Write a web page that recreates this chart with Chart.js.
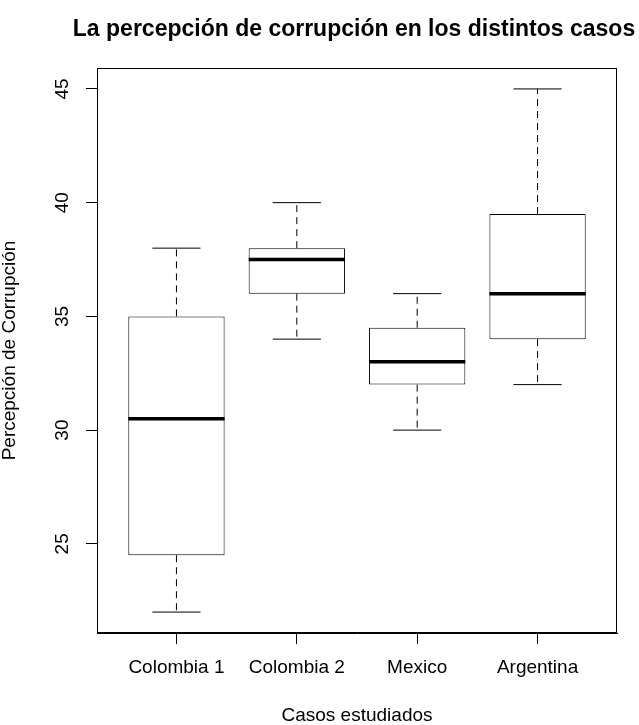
<!DOCTYPE html>
<html>
<head>
<meta charset="utf-8">
<script src="https://cdn.jsdelivr.net/npm/chart.js@4/dist/chart.umd.min.js"></script>
<style>
  body { margin: 0; background: #fff; }
  #wrap { width: 639px; height: 725px; }
</style>
</head>
<body>
<div id="wrap"><canvas id="chart"></canvas></div>
<script>
// datos del boxplot
const casos = ['Colombia 1', 'Colombia 2', 'Mexico', 'Argentina'];
const minimos = [22, 34, 30, 32];
const cuartil1 = [24.5, 36, 32, 34];
const medianas = [30.5, 37.5, 33, 36];
const cuartil3 = [35, 38, 34.5, 39.5];
const maximos = [38, 40, 36, 45];
const yTicks = [25, 30, 35, 40, 45];
const titulo = 'La percepción de corrupción en los distintos casos';

Chart.defaults.font.family = '"Liberation Sans", Arial, sans-serif';
Chart.defaults.color = '#000';

// bigotes, medianas, etiquetas del eje y, marco y titulo
const cajas = {
  id: 'cajas',
  afterDatasetsDraw(chart) {
    const ctx = chart.ctx;
    const x = chart.scales.x;
    const y = chart.scales.y;
    const meta = chart.getDatasetMeta(0);
    ctx.save();
    ctx.strokeStyle = '#000';
    casos.forEach((c, i) => {
      const el = meta.data[i];
      const cx = x.getPixelForValue(i + 1);
      const w = el.width;
      ctx.lineWidth = 1;
      ctx.setLineDash([7, 5]);
      ctx.beginPath();
      ctx.moveTo(cx, y.getPixelForValue(cuartil3[i]));
      ctx.lineTo(cx, y.getPixelForValue(maximos[i]));
      ctx.moveTo(cx, y.getPixelForValue(cuartil1[i]));
      ctx.lineTo(cx, y.getPixelForValue(minimos[i]));
      ctx.stroke();
      ctx.setLineDash([]);
      ctx.beginPath();
      ctx.moveTo(cx - w / 4, y.getPixelForValue(maximos[i]));
      ctx.lineTo(cx + w / 4, y.getPixelForValue(maximos[i]));
      ctx.moveTo(cx - w / 4, y.getPixelForValue(minimos[i]));
      ctx.lineTo(cx + w / 4, y.getPixelForValue(minimos[i]));
      ctx.stroke();
      ctx.lineWidth = 3.5;
      ctx.beginPath();
      ctx.moveTo(cx - w / 2, y.getPixelForValue(medianas[i]));
      ctx.lineTo(cx + w / 2, y.getPixelForValue(medianas[i]));
      ctx.stroke();
    });
    const a = chart.chartArea;
    ctx.lineWidth = 1;
    ctx.strokeRect(a.left + 0.5, a.top + 0.5, a.right - a.left - 1, a.bottom - a.top - 1);
    ctx.fillStyle = '#000';
    ctx.font = '19px "Liberation Sans", Arial, sans-serif';
    ctx.textAlign = 'center';
    ctx.textBaseline = 'middle';
    yTicks.forEach(v => {
      ctx.save();
      ctx.translate(62.5, y.getPixelForValue(v));
      ctx.rotate(-Math.PI / 2);
      ctx.fillText(String(v), 0, 0);
      ctx.restore();
    });
    ctx.font = 'bold 23px "Liberation Sans", Arial, sans-serif';
    ctx.fillText(titulo, 354, 30);
    ctx.restore();
  }
};

new Chart(document.getElementById('chart'), {
  type: 'bar',
  data: {
    datasets: [{
      data: casos.map((c, i) => ({ x: i + 1, y: [cuartil1[i], cuartil3[i]] })),
      backgroundColor: '#fff',
      borderColor: '#000',
      borderWidth: 1,
      borderSkipped: false,
      categoryPercentage: 1,
      barPercentage: 0.8
    }]
  },
  options: {
    responsive: true,
    maintainAspectRatio: false,
    animation: false,
    layout: { padding: { left: 0, right: 22, top: 68, bottom: 0 } },
    plugins: {
      legend: { display: false },
      tooltip: { enabled: false },
      title: { display: false }
    },
    scales: {
      x: {
        type: 'linear',
        min: 0.34,
        max: 4.66,
        offset: false,
        afterBuildTicks: s => { s.ticks = casos.map((c, i) => ({ value: i + 1 })); },
        afterFit: s => { s.height = 92; },
        ticks: {
          callback: v => casos[v - 1],
          font: { size: 19 },
          maxRotation: 0,
          autoSkip: false,
          padding: 12
        },
        grid: { offset: false, drawOnChartArea: false, drawTicks: true, tickLength: 11, tickColor: '#000' },
        border: { display: true, color: '#000' },
        title: {
          display: true,
          text: 'Casos estudiados',
          font: { size: 19, lineHeight: 1 },
          padding: { top: 0, bottom: 0 }
        }
      },
      y: {
        min: 21.08,
        max: 45.92,
        beginAtZero: false,
        afterBuildTicks: s => { s.ticks = yTicks.map(v => ({ value: v })); },
        afterFit: s => { s.width = 97; },
        ticks: { display: false },
        grid: { drawOnChartArea: false, drawTicks: true, tickLength: 11, tickColor: '#000' },
        border: { display: true, color: '#000' },
        title: {
          display: true,
          text: 'Percepción de Corrupción',
          font: { size: 19, lineHeight: 1 },
          padding: { top: 0, bottom: 0 }
        }
      }
    }
  },
  plugins: [cajas]
});
</script>
</body>
</html>
